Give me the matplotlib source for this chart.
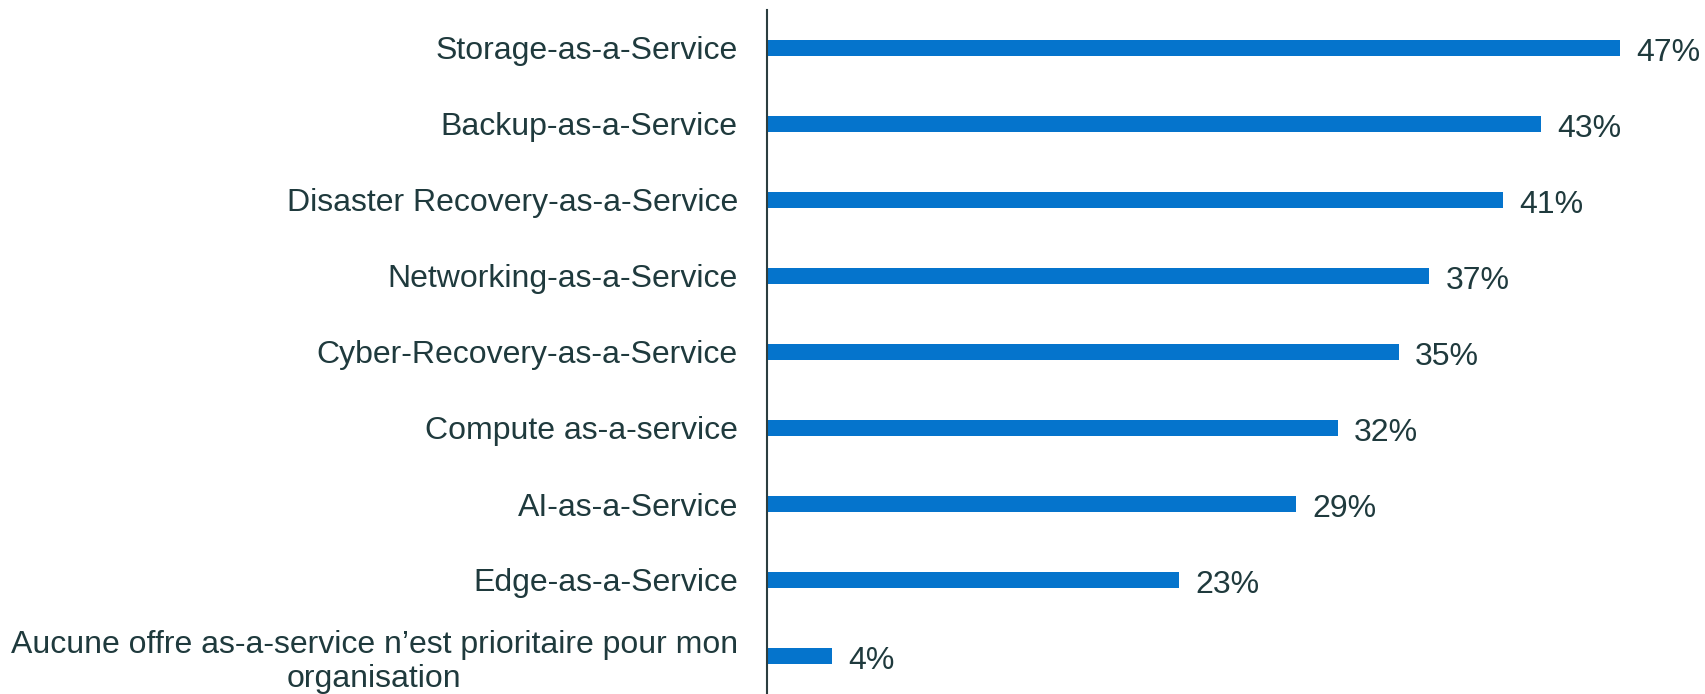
import matplotlib.pyplot as plt

categories = [
    "Storage-as-a-Service",
    "Backup-as-a-Service",
    "Disaster Recovery-as-a-Service",
    "Networking-as-a-Service",
    "Cyber-Recovery-as-a-Service",
    "Compute as-a-service",
    "AI-as-a-Service",
    "Edge-as-a-Service",
    "Aucune offre as-a-service n\u2019est prioritaire pour mon\norganisation",
]
values = [47.4, 43.0, 40.9, 36.8, 35.1, 31.7, 29.4, 22.9, 3.6]
labels = ["47%", "43%", "41%", "37%", "35%", "32%", "29%", "23%", "4%"]

text_color = "#1f3a3d"
bar_color = "#0574cc"

plt.rcParams['font.family'] = ['Liberation Sans', 'DejaVu Sans']

fig = plt.figure(figsize=(17.06, 6.94), dpi=100)
ax = fig.add_axes([767 / 1706, 0, 939 / 1706, 684 / 694])

ypos = list(range(len(categories)))
ax.barh(ypos, values, height=0.22, color=bar_color)
ax.set_ylim(len(categories) - 0.5, -0.5)
ax.set_xlim(0, 939 / 18.0)

ax.set_yticks(ypos)
ax.set_yticklabels(categories, fontsize=23, color=text_color, multialignment='center')
ax.tick_params(axis='y', length=0, pad=21)
ax.set_xticks([])

for s in ['top', 'right', 'bottom']:
    ax.spines[s].set_visible(False)
ax.spines['left'].set_color('#2b3e40')
ax.spines['left'].set_linewidth(1.5)

for i, v in enumerate(values):
    ax.text(v + 0.9, i + 0.07, labels[i], va='center', ha='left', fontsize=23, color=text_color)

fig.savefig("out.png", dpi=100)
